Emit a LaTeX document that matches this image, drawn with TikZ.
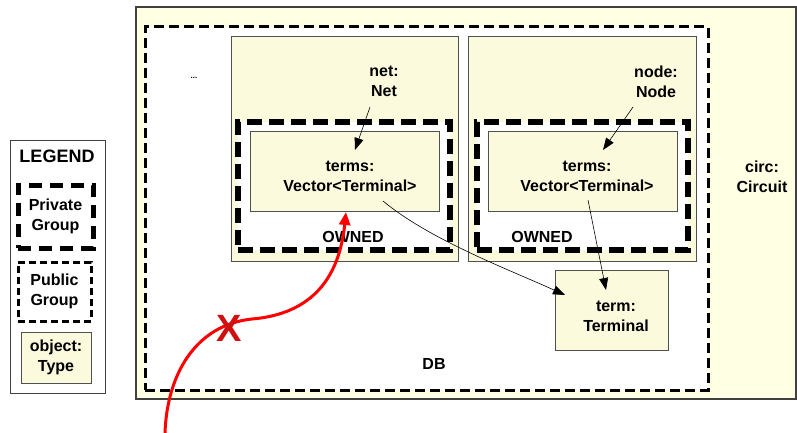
\documentclass[tikz,border=0pt]{standalone}
\usepackage{fontspec}
\setmainfont{Liberation Sans}
\usetikzlibrary{arrows.meta}
\definecolor{circfill}{HTML}{FFFFE3}
\definecolor{boxfill}{HTML}{FCFADC}
\definecolor{boxline}{HTML}{505050}
\definecolor{xred}{HTML}{D01010}
\tikzset{
  lbl/.style={font=\fontsize{16}{20}\selectfont\bfseries, align=center, inner sep=0pt},
  objbox/.style={draw=boxline, line width=0.9pt, fill=boxfill, inner sep=0pt},
  pubgrp/.style={draw=black, line width=3pt, dash pattern=on 10pt off 5pt, fill=white, inner sep=0pt},
  privgrp/.style={draw=black, line width=5.5pt, dash pattern=on 15pt off 7pt, fill=white, inner sep=0pt},
  conn/.style={draw=black, line width=0.6pt, -{Triangle[length=12pt,width=9pt]}},
  badref/.style={draw=red, line width=3pt, -{Triangle[length=13pt,width=11pt]}},
}
\begin{document}
\begin{tikzpicture}[x=1pt,y=-1pt]
\useasboundingbox (0,0) rectangle (797,433);
% circuit background
\node[draw=black!75, line width=1.4pt, fill=circfill, minimum width=660pt, minimum height=392pt, inner sep=0pt] (circ) at (466,203) {};
% DB public group
\node[pubgrp, minimum width=563pt, minimum height=363pt] (db) at (426.5,208.5) {};
% net and node objects
\node[objbox, minimum width=227pt, minimum height=225pt] (netbox) at (344.5,148.5) {};
\node[objbox, minimum width=228pt, minimum height=225pt] (nodebox) at (582,148.5) {};
% private groups
\node[privgrp, minimum width=212pt, minimum height=128pt] (priv1) at (344,186) {};
\node[privgrp, minimum width=211pt, minimum height=128pt] (priv2) at (582.5,186) {};
% terms boxes
\node[objbox, minimum width=189pt, minimum height=80pt] (terms1) at (344.5,171) {};
\node[objbox, minimum width=189pt, minimum height=80pt] (terms2) at (582.5,171) {};
% term box
\node[objbox, minimum width=113pt, minimum height=80pt] (term) at (611.5,310) {};
% texts
\node[lbl] (netlbl) at (384,81.5) {net:\\Net};
\node[lbl] (nodelbl) at (656,81.5) {node:\\Node};
\node[lbl] (t1lbl) at (350,176.5) {terms:\\Vector<Terminal>};
\node[lbl] (t2lbl) at (587,176.5) {terms:\\Vector<Terminal>};
\node[lbl] (termlbl) at (616,316) {term:\\Terminal};
\node[lbl] (circlbl) at (762,177) {circ:\\Circuit};
\node[lbl] (own1) at (353,237) {OWNED};
\node[lbl] (own2) at (542,237) {OWNED};
\node[lbl] (dblbl) at (434,364) {DB};
\node[font=\fontsize{8}{9}\selectfont\bfseries, inner sep=0pt] (dots) at (194,78) {...};
% connector end points
\coordinate (a1s) at (370,107);
\coordinate (a1e) at (355,150);
\coordinate (a2s) at (633,107);
\coordinate (a2e) at (603,150);
\coordinate (a3s) at (383,201);
\coordinate (a3e) at (565,295);
\coordinate (a4s) at (588,200);
\coordinate (a4e) at (606,290);
\draw[conn] (a1s) -- (a1e);
\draw[conn] (a2s) -- (a2e);
\draw[conn] (a3s) .. controls (430,240) and (510,270) .. (a3e);
\draw[conn] (a4s) -- (a4e);
% forbidden reference
\coordinate (rs) at (165,433);
\coordinate (rm) at (252,319);
\coordinate (re) at (346,212);
\draw[badref] (rs) .. controls (167,375) and (195,325) .. (rm) .. controls (300,315) and (338,290) .. (re);
\node[font=\fontsize{38}{38}\selectfont\bfseries, text=xred, inner sep=0pt] (xmark) at (229,328) {X};
% legend
\node[draw=black!75, line width=1pt, fill=white, minimum width=95pt, minimum height=253pt, inner sep=0pt] (legend) at (57.5,266.5) {};
\node[lbl, font=\fontsize{18}{20}\selectfont\bfseries] (leglbl) at (57,156) {LEGEND};
\node[draw=black, line width=5pt, dash pattern=on 13pt off 8pt, fill=white, minimum width=75pt, minimum height=63pt, inner sep=0pt] (legpriv) at (55.5,216.5) {};
\node[lbl] at (legpriv) {Private\\Group};
\node[draw=black, line width=3pt, dash pattern=on 7pt off 4pt, fill=white, minimum width=73pt, minimum height=59pt, inner sep=0pt] (legpub) at (54.5,291.5) {};
\node[lbl] at (legpub) {Public\\Group};
\node[objbox, minimum width=70pt, minimum height=51pt] (legobj) at (56,357.5) {};
\node[lbl] at (legobj) {object:\\Type};
\end{tikzpicture}
\end{document}
